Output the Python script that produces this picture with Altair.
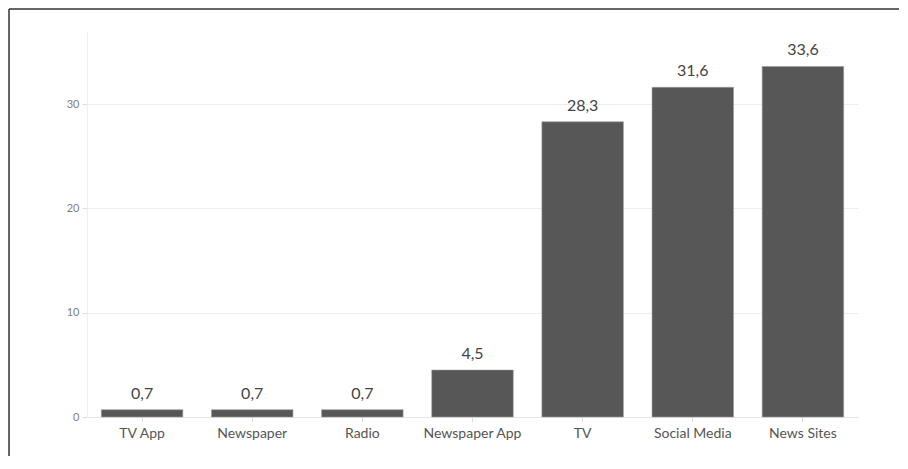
import altair as alt
import pandas as pd

categories = ["TV App", "Newspaper", "Radio", "Newspaper App", "TV", "Social Media", "News Sites"]
values = [0.7, 0.7, 0.7, 4.5, 28.3, 31.6, 33.6]
y_ticks = [0, 10, 20, 30]

df = pd.DataFrame({"cat": categories, "val": values})
FONT = "Lato"

x_enc = alt.X("cat:N", sort=None, title=None,
              scale=alt.Scale(paddingInner=0.26, paddingOuter=0.13),
              axis=alt.Axis(labelAngle=0, labelFontSize=14, labelColor="#555",
                            labelFont=FONT, tickColor="#ddd", tickSize=5,
                            domainColor="#e6e6e6", labelPadding=4, grid=False))
y_enc = alt.Y("val:Q", title=None,
              scale=alt.Scale(domain=[0, 37], nice=False, zero=True),
              axis=alt.Axis(values=y_ticks, labelFontSize=11, labelColor="#808080",
                            labelFont=FONT, tickColor="#ddd", tickSize=5,
                            domainColor="#eee", gridColor="#eee", labelPadding=3))

base = alt.Chart(df)
bars = base.mark_bar(color="#575757", stroke="#9a9a9a", strokeWidth=0.6).encode(x=x_enc, y=y_enc)
labels = base.transform_calculate(
    lbl="replace(format(datum.val, '.1f'), '.', ',')"
).mark_text(baseline="bottom", dy=-8, fontSize=16, color="#444", font=FONT).encode(
    x=alt.X("cat:N", sort=None), y="val:Q", text="lbl:N")

one = pd.DataFrame({"a": [0]})
frame_top = alt.Chart(one).mark_rule(stroke="#333", strokeWidth=1.5).encode(
    x=alt.value(-78), x2=alt.value(812), y=alt.value(-22), y2=alt.value(-22))
frame_left = alt.Chart(one).mark_rule(stroke="#333", strokeWidth=1.5).encode(
    x=alt.value(-78), x2=alt.value(-78), y=alt.value(-22), y2=alt.value(425))

chart = alt.layer(bars, labels, frame_top, frame_left).properties(
    width=771, height=386,
    autosize=alt.AutoSizeParams(type="none"),
    padding={"left": 79, "top": 23, "right": 42, "bottom": 40},
    background="white",
).configure_view(stroke=None)

chart.save("out.html", embed_options={"renderer": "svg", "actions": False})
